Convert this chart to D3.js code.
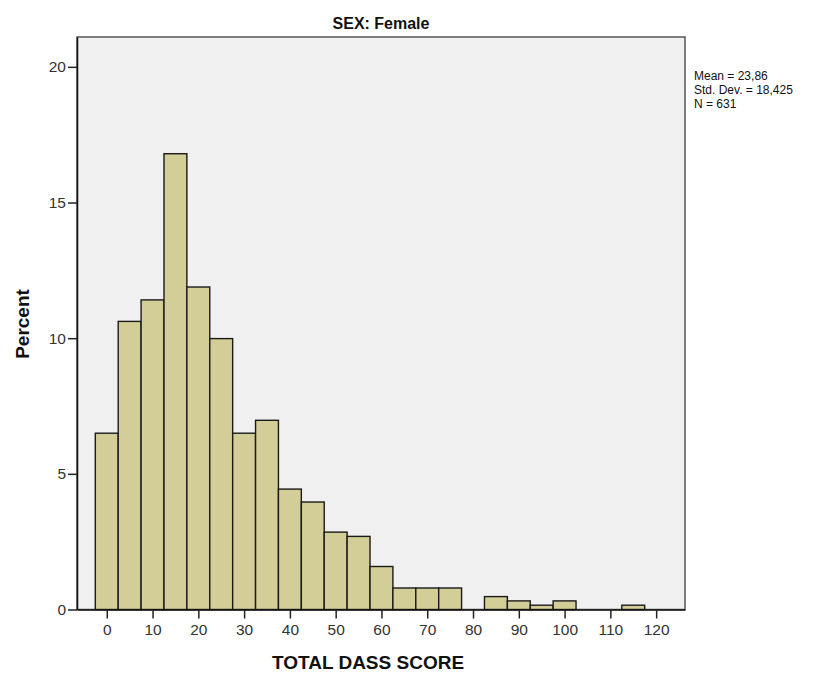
<!DOCTYPE html>
<html>
<head>
<meta charset="utf-8">
<script src="https://cdn.jsdelivr.net/npm/d3@7"></script>
<style>
  body { margin: 0; background: #fff; }
  text { font-family: "Liberation Sans", Arial, sans-serif; }
</style>
</head>
<body>
<svg id="chart" width="830" height="680"></svg>
<script>
// bin centres (width 5) and counts, N = 631
const binCenters = [0, 5, 10, 15, 20, 25, 30, 35, 40, 45, 50, 55, 60, 65, 70, 75, 80, 85, 90, 95, 100, 105, 110, 115];
const binCounts = [41, 67, 72, 106, 75, 63, 41, 44, 28, 25, 18, 17, 10, 5, 5, 5, 0, 3, 2, 1, 2, 0, 0, 1];
const total = 631;
const xTicks = [0, 10, 20, 30, 40, 50, 60, 70, 80, 90, 100, 110, 120];
const yTicks = [0, 5, 10, 15, 20];
const statLines = ["Mean = 23,86", "Std. Dev. = 18,425", "N = 631"];

const binWidth = 5;
const svg = d3.select("#chart");

const plotLeft = 77, plotRight = 685, plotTop = 37, plotBottom = 609.5;

const x = d3.scaleLinear().domain([-6.5, 126.3]).range([plotLeft, plotRight]);
const y = d3.scaleLinear().domain([0, 21.1]).range([plotBottom, plotTop]);

// plot area
svg.append("rect")
  .attr("x", plotLeft).attr("y", plotTop)
  .attr("width", plotRight - plotLeft).attr("height", plotBottom - plotTop)
  .attr("fill", "#f0f0f0")
  .attr("stroke", "#555")
  .attr("stroke-width", 1.5);

// bars
svg.append("g")
  .selectAll("rect")
  .data(binCenters.map((c, i) => ({ c, pct: binCounts[i] / total * 100 })).filter((d) => d.pct > 0))
  .enter()
  .append("rect")
  .attr("x", (d) => x(d.c - binWidth / 2))
  .attr("width", (d) => x(d.c + binWidth / 2) - x(d.c - binWidth / 2))
  .attr("y", (d) => y(d.pct))
  .attr("height", (d) => y(0) - y(d.pct))
  .attr("fill", "#d3ce97")
  .attr("stroke", "#1a1a1a")
  .attr("stroke-width", 1.4);

// axes
const xAxis = svg.append("g")
  .attr("transform", `translate(0,${plotBottom})`)
  .call(d3.axisBottom(x).tickValues(xTicks).tickSize(9).tickSizeOuter(0).tickPadding(5));

const yAxis = svg.append("g")
  .attr("transform", `translate(${plotLeft},0)`)
  .call(d3.axisLeft(y).tickValues(yTicks).tickSize(9).tickSizeOuter(0).tickPadding(2));

[xAxis, yAxis].forEach((ax) => {
  ax.select(".domain").attr("stroke", "#111").attr("stroke-width", 1.5);
  ax.selectAll(".tick line").attr("stroke", "#222").attr("stroke-width", 1.5);
  ax.selectAll(".tick text")
    .attr("font-size", 15.5)
    .attr("fill", "#333")
    .style("font-family", "'Liberation Sans', Arial, sans-serif");
});

// title
svg.append("text")
  .attr("x", (plotLeft + plotRight) / 2)
  .attr("y", 29)
  .attr("text-anchor", "middle")
  .attr("font-size", 16)
  .attr("font-weight", "bold")
  .attr("fill", "#111")
  .text("SEX: Female");

// axis titles
svg.append("text")
  .attr("x", 368)
  .attr("y", 669)
  .attr("text-anchor", "middle")
  .attr("font-size", 19)
  .attr("font-weight", "bold")
  .attr("fill", "#111")
  .text("TOTAL DASS SCORE");

svg.append("text")
  .attr("transform", "translate(29,324) rotate(-90)")
  .attr("text-anchor", "middle")
  .attr("font-size", 19)
  .attr("font-weight", "bold")
  .attr("fill", "#111")
  .text("Percent");

// stats box
svg.append("g")
  .selectAll("text")
  .data(statLines)
  .enter()
  .append("text")
  .attr("x", 694)
  .attr("y", (d, i) => 80 + i * 14)
  .attr("font-size", 12)
  .attr("fill", "#111")
  .text((d) => d);
</script>
</body>
</html>
